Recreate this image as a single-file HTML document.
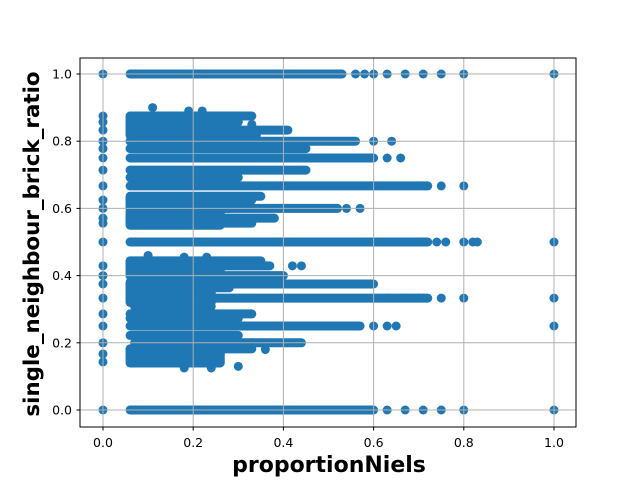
<!DOCTYPE html>
<html><head><meta charset="utf-8"><style>
html,body{margin:0;padding:0;background:#fff}
svg{display:block;font-family:"DejaVu Sans","Liberation Sans",sans-serif}
</style></head><body>
<svg id="chart" width="640" height="480">
<rect x="80" y="58" width="496" height="369" fill="#fff" stroke="none"/>
<g id="marks"></g>
<g id="grid"></g>
<rect x="80" y="58" width="496" height="369" fill="none" stroke="#000" stroke-width="1"/>
<g id="xticks"></g>
<g id="yticks"></g>
<text x="329" y="472" text-anchor="middle" font-size="22" font-weight="bold">proportionNiels</text>
<text transform="translate(39,244) rotate(-90)" text-anchor="middle" font-size="21.4" font-weight="bold">single_neighbour_brick_ratio</text>
</svg>
<script>
const xTicks=[0,0.2,0.4,0.6,0.8,1.0];
const yTicks=[0,0.2,0.4,0.6,0.8,1.0];
const bandY=[1.0,0.875,0.857,0.833,0.818,0.8,0.778,0.75,0.714,0.692,0.667,0.636,0.625,0.6,0.571,0.556,0.5,0.444,0.429,0.4,0.375,0.364,0.333,0.308,0.286,0.273,0.25,0.222,0.2,0.182,0.167,0.143,0.0];
const bandX0=[0.06,0.06,0.06,0.06,0.06,0.06,0.06,0.06,0.06,0.06,0.06,0.06,0.06,0.06,0.06,0.06,0.06,0.06,0.06,0.06,0.06,0.06,0.06,0.07,0.06,0.06,0.06,0.06,0.07,0.06,0.07,0.08,0.06];
const bandX1=[0.53,0.33,0.30,0.41,0.34,0.56,0.45,0.60,0.45,0.30,0.72,0.35,0.33,0.52,0.38,0.33,0.72,0.35,0.37,0.40,0.60,0.28,0.72,0.24,0.33,0.30,0.57,0.30,0.44,0.33,0.26,0.20,0.60];
const blobY0=[0.82,0.60,0.55,0.40,0.32,0.14];
const blobY1=[0.87,0.63,0.59,0.44,0.38,0.18];
const blobX1=[0.26,0.28,0.26,0.26,0.24,0.26];
const ptX=[0.56,0.58,0.6,0.63,0.67,0.71,0.75,0.8,1.0, 0.6,0.64, 0.63,0.66, 0.75,0.8, 0.54,0.57, 0.74,0.76,0.8,0.82,0.83,1.0, 0.44, 0.63,0.67,0.71,0.75,0.8,1.0, 0.6,0.63,0.65,1.0, 0.63,0.67,0.71,0.75,0.8,1.0, 0.42,0.44, 0.33,0.36,0.7, 0.11,0.19,0.22,0.33, 0.18,0.24,0.3, 0.1,0.18,0.23];
const ptY=[1,1,1,1,1,1,1,1,1, 0.8,0.8, 0.75,0.75, 0.667,0.667, 0.6,0.6, 0.5,0.5,0.5,0.5,0.5,0.5, 0.714, 0.333,0.333,0.333,0.333,0.333,0.333, 0.25,0.25,0.25,0.25, 0,0,0,0,0,0, 0.429,0.429, 0.2,0.18,0.333, 0.9,0.89,0.89,0.85, 0.125,0.125,0.13, 0.46,0.455,0.455];
const colY=[0,0.143,0.167,0.2,0.25,0.286,0.333,0.375,0.4,0.429,0.5,0.556,0.571,0.6,0.625,0.667,0.714,0.75,0.778,0.8,0.833,0.857,0.875,1.0];

const NS="http://www.w3.org/2000/svg";
const X=v=>103+v*451, Y=v=>410-v*336;
const C="#1f77b4", R=4.5;
const marks=document.getElementById('marks');
function mk(t,a){const e=document.createElementNS(NS,t);for(const k in a)e.setAttribute(k,a[k]);return e;}
for(let i=0;i<blobY0.length;i++){
  const e=mk('rect',{x:X(0.06)-R,y:Y(blobY1[i])-R,width:X(blobX1[i])-X(0.06)+2*R,height:Y(blobY0[i])-Y(blobY1[i])+2*R,rx:R,fill:C});
  
  
  marks.appendChild(e);
}
for(let i=0;i<bandY.length;i++){
  const e=mk('line',{x1:X(bandX0[i]),x2:X(bandX1[i]),y1:Y(bandY[i]),y2:Y(bandY[i]),stroke:C,'stroke-width':2*R,'stroke-linecap':'round'});
  
  
  marks.appendChild(e);
}
for(let i=0;i<ptX.length;i++){
  const e=mk('circle',{cx:X(ptX[i]),cy:Y(ptY[i]),r:R,fill:C});
  
  
  marks.appendChild(e);
}
for(let i=0;i<colY.length;i++){
  const e=mk('circle',{cx:X(0),cy:Y(colY[i]),r:R,fill:C});
  
  
  marks.appendChild(e);
}
const grid=document.getElementById('grid'),xt=document.getElementById('xticks'),yt=document.getElementById('yticks');
xTicks.forEach(v=>{
  const g=mk('line',{x1:X(v),x2:X(v),y1:58,y2:427,stroke:'#b0b0b0','stroke-width':1});
  
  
  grid.appendChild(g);
  const t=mk('line',{x1:X(v),x2:X(v),y1:427,y2:430.5,stroke:'#000'});
  
  
  xt.appendChild(t);
  const l=mk('text',{x:X(v),y:447,'text-anchor':'middle','font-size':12.5});
  l.textContent=v.toFixed(1);
  
  
  xt.appendChild(l);
});
yTicks.forEach(v=>{
  const g=mk('line',{x1:80,x2:576,y1:Y(v),y2:Y(v),stroke:'#b0b0b0','stroke-width':1});
  
  
  grid.appendChild(g);
  const t=mk('line',{x1:76.5,x2:80,y1:Y(v),y2:Y(v),stroke:'#000'});
  
  
  yt.appendChild(t);
  const l=mk('text',{x:72,y:Y(v)+4.5,'text-anchor':'end','font-size':12.5});
  l.textContent=v.toFixed(1);
  
  
  yt.appendChild(l);
});
</script>
</body></html>
